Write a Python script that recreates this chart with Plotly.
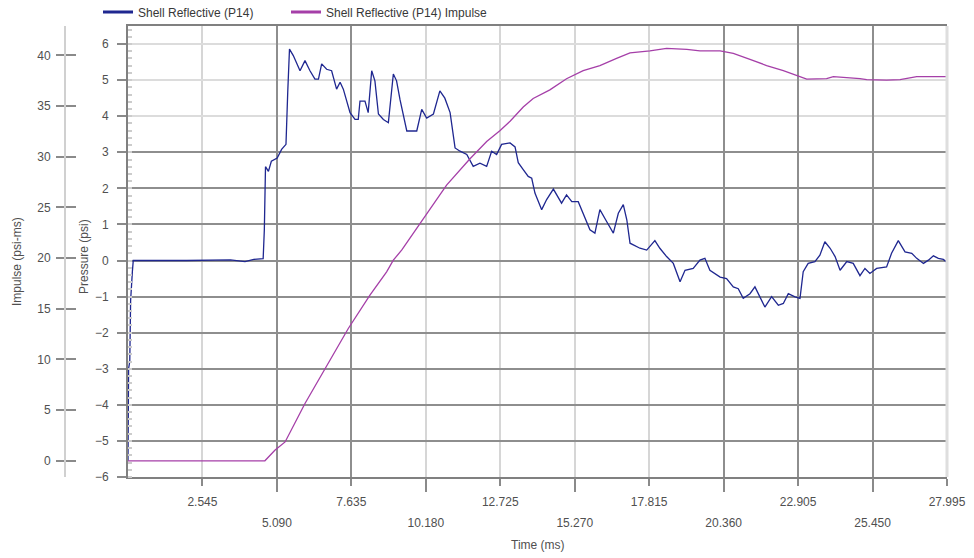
import plotly.graph_objects as go

# ---------------- data ----------------
time_p = [0.00, 0.02, 0.06, 0.09, 0.15, 0.18, 2.00, 3.50, 4.00, 4.30, 4.62, 4.66, 4.70, 4.80,
          4.90, 5.10, 5.25, 5.40, 5.46, 5.52, 5.65, 5.88, 6.05, 6.22, 6.39, 6.51, 6.62, 6.79,
          6.96, 7.13, 7.25, 7.36, 7.59, 7.76, 7.87, 7.93, 8.10, 8.21, 8.33, 8.44, 8.56, 8.73,
          8.90, 8.96, 9.07, 9.18, 9.30, 9.53, 9.87, 10.04, 10.21, 10.44, 10.66, 10.83, 11.01,
          11.18, 11.35, 11.58, 11.80, 12.03, 12.26, 12.43, 12.60, 12.77, 13.06, 13.23, 13.34,
          13.51, 13.68, 13.80, 13.91, 14.14, 14.31, 14.54, 14.82, 14.99, 15.17, 15.39, 15.56,
          15.79, 15.96, 16.13, 16.36, 16.59, 16.76, 16.93, 17.05, 17.16, 17.50, 17.73, 18.01,
          18.18, 18.41, 18.64, 18.87, 19.04, 19.32, 19.55, 19.72, 19.89, 20.24, 20.46, 20.69,
          20.86, 21.03, 21.26, 21.43, 21.60, 21.77, 22.00, 22.23, 22.40, 22.57, 22.80, 22.97,
          23.08, 23.25, 23.48, 23.65, 23.82, 24.00, 24.17, 24.34, 24.57, 24.79, 25.02, 25.19,
          25.36, 25.59, 25.93, 26.10, 26.33, 26.56, 26.79, 26.96, 27.19, 27.36, 27.53, 27.70,
          27.87, 27.99]
pressure = [-5.55, -3.00, -2.80, -1.10, -0.30, 0.00, 0.00, 0.02, -0.03, 0.03, 0.05, 0.85, 2.60, 2.47,
            2.75, 2.84, 3.08, 3.22, 4.66, 5.86, 5.68, 5.26, 5.54, 5.26, 5.03, 5.03, 5.45, 5.30,
            5.26, 4.75, 4.94, 4.75, 4.10, 3.91, 3.91, 4.42, 4.42, 4.10, 5.26, 4.98, 4.06, 3.91,
            3.82, 4.38, 5.17, 4.98, 4.45, 3.59, 3.59, 4.19, 3.95, 4.06, 4.70, 4.50, 4.10,
            3.12, 3.03, 2.94, 2.61, 2.70, 2.61, 3.03, 2.94, 3.22, 3.26, 3.15, 2.71,
            2.52, 2.33, 2.28, 1.87, 1.41, 1.69, 1.98, 1.59, 1.82, 1.63, 1.63, 1.31,
            0.85, 0.76, 1.41, 1.08, 0.76, 1.31, 1.55, 1.13, 0.48, 0.34, 0.29, 0.55,
            0.34, 0.11, -0.08, -0.59, -0.27, -0.22, 0.01, 0.06, -0.27, -0.46, -0.50, -0.73,
            -0.78, -1.05, -0.92, -0.73, -1.01, -1.29, -1.00, -1.24, -1.19, -0.92, -1.01, -1.05,
            -0.31, -0.08, -0.03, 0.15, 0.52, 0.34, 0.11, -0.27, -0.03, -0.08, -0.42, -0.22,
            -0.36, -0.22, -0.18, 0.20, 0.55, 0.24, 0.20, 0.06, -0.08, 0.01, 0.13, 0.06,
            0.03, -0.05]

time_i = [0.00, 4.68, 5.02, 5.37, 6.05, 6.73, 7.53, 8.27, 8.84, 9.07, 9.36, 9.98, 10.89, 11.69,
          12.26, 12.72, 13.06, 13.51, 13.85, 14.42, 14.99, 15.56, 16.13, 16.70, 17.16, 17.84,
          18.41, 19.10, 19.55, 20.24, 20.69, 21.26, 21.83, 22.40, 22.97, 23.20, 23.88, 24.11,
          25.02, 25.25, 25.93, 26.39, 26.96, 27.99]
impulse = [0.0, 0.0, 1.04, 1.86, 5.65, 9.10, 13.05, 16.34, 18.64, 19.80, 20.80, 23.40, 27.20, 29.80,
           31.50, 32.60, 33.50, 34.90, 35.75, 36.60, 37.70, 38.50, 39.00, 39.70, 40.25, 40.45,
           40.70, 40.60, 40.45, 40.45, 40.20, 39.60, 39.00, 38.50, 37.90, 37.65, 37.70, 37.90,
           37.70, 37.60, 37.55, 37.60, 37.90, 37.90]

x_ticks = [2.545, 5.090, 7.635, 10.180, 12.725, 15.270, 17.815, 20.360, 22.905, 25.450, 27.995]
x_tick_labels = ["2.545", "5.090", "7.635", "10.180", "12.725", "15.270", "17.815",
                 "20.360", "22.905", "25.450", "27.995"]
x_dark_grid = [5.090, 7.635, 20.360, 22.905, 25.450]
p_ticks = [-6, -5, -4, -3, -2, -1, 0, 1, 2, 3, 4, 5, 6]
p_dark_grid = [-5, -4, -3, -2, -1, 0, 1, 2, 3]
i_ticks = [0, 5, 10, 15, 20, 25, 30, 35, 40]

series_names = ["Shell Reflective (P14)", "Shell Reflective (P14) Impulse"]
series_colors = ["#1f2790", "#a53fa8"]

# ---------------- layout geometry ----------------
W, H = 974, 558
ML, MR, MT, MB = 10, 27, 26, 81
PW = W - ML - MR
PH = H - MT - MB
x_dom0 = (128 - ML) / PW
imp_pos = (65 - ML) / PW

FONT = "Liberation Sans, Arial, sans-serif"
TXT = "#505050"

row1 = [t if i % 2 == 0 else "" for i, t in enumerate(x_tick_labels)]
even_vals = [v for i, v in enumerate(x_ticks) if i % 2 == 1]
even_text = [t for i, t in enumerate(x_tick_labels) if i % 2 == 1]

fig = go.Figure()
fig.add_trace(go.Scatter(x=time_i, y=impulse, mode="lines", name=series_names[1],
                         line=dict(color=series_colors[1], width=1.3), yaxis="y2",
                         showlegend=False))
fig.add_trace(go.Scatter(x=time_p, y=pressure, mode="lines", name=series_names[0],
                         line=dict(color=series_colors[0], width=1.3), showlegend=False))
# legend entries (thicker swatches, as in the reference), one legend box each
for nm, col, lg in zip(series_names, series_colors, ["legend", "legend2"]):
    fig.add_trace(go.Scatter(x=[None], y=[None], mode="lines", name=nm, legend=lg,
                             line=dict(color=col, width=3), hoverinfo="skip"))
# helper traces so the overlay axes get drawn
fig.add_trace(go.Scatter(x=[None], y=[None], xaxis="x2", yaxis="y3", showlegend=False, hoverinfo="skip"))
fig.add_trace(go.Scatter(x=[None], y=[None], xaxis="x3", yaxis="y4", showlegend=False, hoverinfo="skip"))

leg_common = dict(orientation="h", xanchor="left", yref="container", y=1 - 12 / H,
                  yanchor="middle", font=dict(size=12, color="#383838"),
                  bgcolor="rgba(0,0,0,0)")

fig.update_layout(
    width=W, height=H,
    margin=dict(l=ML, r=MR, t=MT, b=MB, autoexpand=False),
    paper_bgcolor="white", plot_bgcolor="white",
    font=dict(family=FONT, size=12, color=TXT),
    showlegend=True,
    legend=dict(x=(98 - ML) / PW, **leg_common),
    legend2=dict(x=(286 - ML) / PW, **leg_common),
    xaxis=dict(domain=[x_dom0, 1], range=[0, 27.995], tickmode="array",
               tickvals=x_ticks, ticktext=row1, ticks="outside", ticklen=7,
               tickcolor="#8a8a8a", tickwidth=1.5, automargin=False,
               showgrid=True, gridcolor="#d6d6d6", gridwidth=1.5,
               showline=True, linecolor="#808080", linewidth=2, mirror=True,
               zeroline=False, ticklabelstandoff=6,
               tickfont=dict(size=12, color=TXT)),
    xaxis2=dict(overlaying="x", anchor="y", range=[0, 27.995], tickmode="array",
                tickvals=even_vals, ticktext=even_text, ticks="outside", ticklen=14,
                tickcolor="#8a8a8a", tickwidth=1.5, showgrid=False, showline=False,
                zeroline=False, ticklabelstandoff=21, automargin=False,
                tickfont=dict(size=12, color=TXT)),
    xaxis3=dict(overlaying="x", anchor="y", range=[0, 27.995], tickmode="array",
                tickvals=x_dark_grid, showticklabels=False, ticks="",
                showgrid=True, gridcolor="#8e8e8e", gridwidth=1.5,
                showline=False, zeroline=False),
    yaxis=dict(domain=[0, 1], anchor="x", range=[-6, 6.5], tickmode="array",
               tickvals=p_ticks, ticks="outside", ticklen=9, tickcolor="#8a8a8a",
               tickwidth=1.5, showgrid=True, gridcolor="#dcdcdc", gridwidth=2,
               showline=True, linecolor="#808080", linewidth=2, zeroline=False,
               ticklabelstandoff=6, automargin=False,
               minor=dict(ticks="inside", ticklen=4, tickcolor="#cccccc",
                          dtick=0.2, tick0=0, showgrid=False),
               tickfont=dict(size=12, color=TXT)),
    yaxis4=dict(overlaying="y", anchor="x", range=[-6, 6.5], tickmode="array",
                tickvals=p_dark_grid, showticklabels=False, ticks="",
                showgrid=True, gridcolor="#8e8e8e", gridwidth=2,
                showline=False, zeroline=False),
    yaxis2=dict(overlaying="y", anchor="free", position=imp_pos, side="left",
                range=[-1.6, 42.9], tickmode="array", tickvals=i_ticks,
                ticks="outside", ticklen=8, tickcolor="#8a8a8a", tickwidth=1.5,
                showgrid=False, showline=True, linecolor="#d0d0d0", linewidth=2,
                zeroline=False, ticklabelstandoff=3, automargin=False,
                tickfont=dict(size=12, color=TXT)),
    yaxis3=dict(overlaying="y", anchor="free", position=imp_pos, side="right",
                range=[-1.6, 42.9], tickmode="array", tickvals=i_ticks,
                ticks="outside", ticklen=10, tickcolor="#8a8a8a", tickwidth=1.5,
                showticklabels=False, showgrid=False, showline=False, zeroline=False),
    shapes=[dict(type="line", xref="paper", yref="paper", x0=1, x1=1, y0=0, y1=1,
                 line=dict(color="#dedede", width=3))],
    annotations=[
        dict(text="Impulse (psi-ms)", xref="paper", yref="paper",
             x=(17 - ML) / PW, y=(H - MB - 262) / PH, textangle=-90,
             showarrow=False, xanchor="center", yanchor="middle",
             font=dict(size=12, color=TXT)),
        dict(text="Pressure (psi)", xref="paper", yref="paper",
             x=(84 - ML) / PW, y=(H - MB - 257) / PH, textangle=-90,
             showarrow=False, xanchor="center", yanchor="middle",
             font=dict(size=12, color=TXT)),
        dict(text="Time (ms)", xref="paper", yref="paper",
             x=(538 - ML) / PW, y=(H - MB - 545) / PH,
             showarrow=False, xanchor="center", yanchor="middle",
             font=dict(size=12, color=TXT)),
    ],
)

fig.write_html("out.html", config={"displayModeBar": False},
               post_script="document.body.style.margin='0px';document.body.style.padding='0px';")
